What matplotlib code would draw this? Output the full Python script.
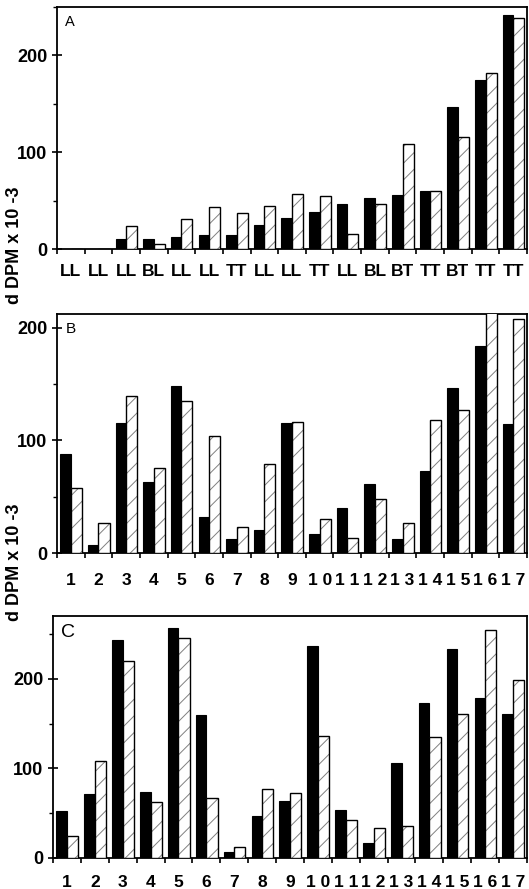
import numpy as np
import matplotlib
matplotlib.use('Agg')
import matplotlib.pyplot as plt
from matplotlib.ticker import MultipleLocator, FixedLocator

plt.rcParams['font.family'] = ['Liberation Sans', 'DejaVu Sans']
plt.rcParams['hatch.linewidth'] = 0.7

# panel A: pair types and values (black = first bar, hatched = second bar)
labelsA = ['LL', 'LL', 'LL', 'BL', 'LL', 'LL', 'TT', 'LL', 'LL', 'TT',
           'LL', 'BL', 'BT', 'TT', 'BT', 'TT', 'TT']
blackA = [0, 0, 10, 10, 12, 14, 14, 25, 32, 38, 46, 53, 56, 60, 147, 175, 242]
hatchA = [0, 0, 24, 5, 31, 43, 37, 44, 57, 55, 15, 47, 108, 60, 116, 182, 239]

# panel B / C: numbered samples
labelsBC = ['1', '2', '3', '4', '5', '6', '7', '8', '9',
            '1 0', '1 1', '1 2', '1 3', '1 4', '1 5', '1 6', '1 7']
blackB = [88, 7, 115, 63, 148, 32, 12, 20, 115, 17, 40, 61, 12, 73, 146, 184, 114]
hatchB = [58, 27, 139, 75, 135, 104, 23, 79, 116, 30, 13, 48, 27, 118, 127, 216, 208]

blackC = [52, 71, 243, 74, 257, 160, 7, 47, 64, 237, 54, 17, 106, 173, 233, 178, 161]
hatchC = [24, 108, 220, 62, 245, 67, 12, 77, 73, 136, 42, 34, 36, 135, 161, 254, 199]

W, H = 529, 889
fig = plt.figure(figsize=(W / 100, H / 100), dpi=100)

def px_axes(left, right, top, bottom):
    return fig.add_axes([left / W, 1 - bottom / H, (right - left) / W, (bottom - top) / H])

def draw_panel(ax, black, hatch, labels, ymax, letter, lsize, lpad):
    n = len(black)
    x = np.arange(n)
    ax.bar(x + 0.12, black, width=0.38, align='edge', color='black',
           edgecolor='black', linewidth=0.8, zorder=2)
    ax.bar(x + 0.5, hatch, width=0.4, align='edge', color='white',
           edgecolor='#808080', hatch='//', linewidth=0, zorder=3)
    ax.bar(x + 0.5, hatch, width=0.4, align='edge', fill=False,
           edgecolor='black', linewidth=1.0, zorder=4)
    ax.set_xlim(0, n)
    ax.set_ylim(0, ymax)
    ax.xaxis.set_major_locator(FixedLocator(np.arange(n + 1)))
    ax.xaxis.set_minor_locator(FixedLocator(x + 0.5))
    ax.set_xticklabels([])
    ax.set_xticklabels(labels, minor=True)
    ax.tick_params(axis='x', which='major', direction='out', length=3.5, width=1.2)
    ax.tick_params(axis='x', which='minor', length=0, pad=lpad, labelsize=12.5)
    ax.yaxis.set_major_locator(MultipleLocator(100))
    ax.yaxis.set_minor_locator(MultipleLocator(50))
    ax.tick_params(axis='y', which='major', direction='inout', length=7, width=1.2,
                   labelsize=13)
    ax.tick_params(axis='y', which='minor', direction='out', length=3, width=1.0)
    for lab in ax.get_xticklabels(minor=True) + ax.get_yticklabels():
        lab.set_fontweight('bold')
    for s in ax.spines.values():
        s.set_linewidth(1.3)
    ax.text(0.3, ymax * 0.965, letter, fontsize=lsize, va='top', ha='left')

axA = px_axes(57, 527, 7, 249)
draw_panel(axA, blackA, hatchA, labelsA, 250, 'A', 10.5, 11)

axB = px_axes(57, 527, 314, 553)
draw_panel(axB, blackB, hatchB, labelsBC, 212, 'B', 11, 14.5)

axC = px_axes(53, 527, 616, 858)
draw_panel(axC, blackC, hatchC, labelsBC, 270, 'C', 14, 12)

ylab = 'd DPM x 10 -3'
fig.text(15 / W, 1 - 245 / H, ylab, rotation=90, ha='center', va='center',
         fontsize=13, fontweight='bold')
fig.text(15 / W, 1 - 562 / H, ylab, rotation=90, ha='center', va='center',
         fontsize=13, fontweight='bold')

fig.savefig('out.png', dpi=100)
